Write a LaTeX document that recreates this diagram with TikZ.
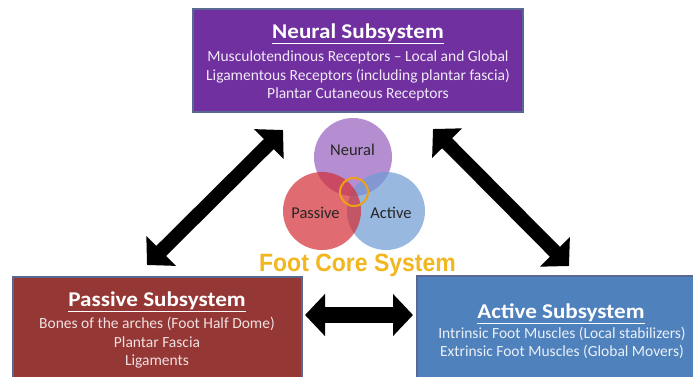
\documentclass[tikz,border=0pt]{standalone}
\usepackage{fontspec}
\setmainfont{Carlito}
\newfontfamily\titlefont{Carlito}[FakeStretch=1.1]
\newfontfamily\bannerfont{Liberation Sans}[FakeStretch=0.92]
\usetikzlibrary{arrows.meta}

\definecolor{neuralpurple}{RGB}{112,48,160}
\definecolor{passivered}{RGB}{149,55,53}
\definecolor{activeblue}{RGB}{79,129,189}
\definecolor{boxline}{RGB}{88,104,146}
\definecolor{coregold}{RGB}{242,182,30}
\definecolor{ringorange}{RGB}{240,160,20}
\definecolor{vennpurple}{RGB}{150,95,192}
\definecolor{vennblue}{RGB}{110,155,212}
\definecolor{vennred}{RGB}{212,45,52}

\tikzset{
  subbox/.style={draw=boxline, fill=#1, line width=1.3pt, inner sep=0pt},
  subtitle/.style={anchor=base, text=white, font=\titlefont\bfseries\fontsize{21}{21}\selectfont},
  subtext/.style={text=#1, align=center, inner sep=0pt, font=\fontsize{15.5}{18.5}\selectfont},
  venn/.style={fill=#1, fill opacity=0.7, draw=none},
  venntext/.style={text=black!85, font=\fontsize{16.5}{16.5}\selectfont},
  bigarrow/.style={line width=#1, {Triangle[length=20pt,width=41pt]}-{Triangle[length=20pt,width=41pt]}},
}

\begin{document}
\begin{tikzpicture}[x=1pt,y=-1pt]
    \clip (0,0) rectangle (693,376);
    \fill[white] (0,0) rectangle (693,376);

    % subsystem boxes
    \node[subbox=neuralpurple, minimum width=330pt, minimum height=103pt] (neural) at (358,60.5) {};
    \node[subbox=passivered, minimum width=289pt, minimum height=114pt] (passive) at (157.5,334) {};
    \node[subbox=activeblue, minimum width=284pt, minimum height=116pt] (active) at (559,334) {};

    \node[subtitle] (neuraltitle) at (358,38.5) {\underline{Neural Subsystem}};
    \node[subtext={white!90!neuralpurple}] (neuraltext) at (358,76) {Musculotendinous Receptors -- Local and Global\\ Ligamentous Receptors (including plantar fascia)\\ Plantar Cutaneous Receptors};

    \node[subtitle] (passivetitle) at (157,306) {\underline{Passive Subsystem}};
    \node[subtext={white!85!passivered}] (passivetext) at (157,343) {Bones of the arches (Foot Half Dome)\\ Plantar Fascia\\ Ligaments};

    \node[subtitle] (activetitle) at (561,318) {\underline{Active Subsystem}};
    \node[subtext={white!88!activeblue}] (activetext) at (562,343) {Intrinsic Foot Muscles (Local stabilizers)\\ Extrinsic Foot Muscles (Global Movers)};

    % venn of the three subsystems
    \fill[venn=vennpurple] (353,157) circle [radius=39];
    \fill[venn=vennblue] (386,211) circle [radius=39];
    \fill[venn=vennred] (322,211) circle [radius=39];
    \draw[ringorange, line width=2pt] (354,192) circle [radius=14];
    \node[venntext] (neurallabel) at (352.5,150) {Neural};
    \node[venntext] (passivelabel) at (315.5,213) {Passive};
    \node[venntext] (activelabel) at (391,213) {Active};

    \node[anchor=base, text=coregold, font=\bannerfont\bfseries\fontsize{25}{25}\selectfont] (core) at (357.5,271.5) {Foot Core System};

    % arrows between the subsystems
    \coordinate (passivetip) at (147,265);
    \coordinate (neuraltipl) at (283,130);
    \coordinate (neuraltipr) at (433,129);
    \coordinate (activetip) at (569,266);
    \coordinate (passivetiph) at (305,315);
    \coordinate (activetiph) at (413,315);
    \draw[bigarrow=14pt] (passivetip) -- (neuraltipl);
    \draw[bigarrow=14pt] (neuraltipr) -- (activetip);
    \draw[bigarrow=16pt] (passivetiph) -- (activetiph);
\end{tikzpicture}
\end{document}
